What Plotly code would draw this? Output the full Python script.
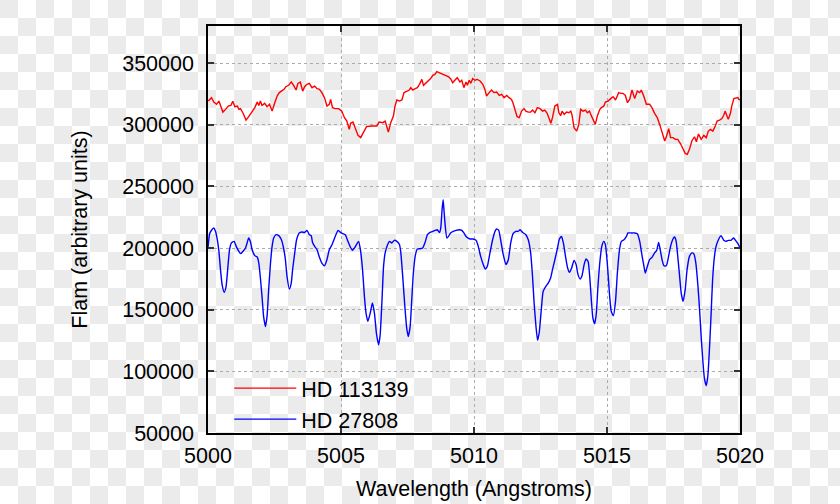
import plotly.graph_objects as go

# ---- data ----
red_wl = [5000.01, 5000.13, 5000.22, 5000.32, 5000.41, 5000.47, 5000.56, 5000.66, 5000.76, 5000.86,
          5000.93, 5001.01, 5001.10, 5001.16, 5001.22, 5001.31, 5001.43, 5001.53, 5001.66, 5001.76,
          5001.85, 5001.91, 5001.97, 5002.03, 5002.13, 5002.22, 5002.31, 5002.41, 5002.51, 5002.60,
          5002.68, 5002.78, 5002.87, 5002.93, 5003.03, 5003.13, 5003.22, 5003.31, 5003.38, 5003.47,
          5003.56, 5003.63, 5003.72, 5003.81, 5003.91, 5004.01, 5004.10, 5004.19, 5004.28, 5004.38,
          5004.47, 5004.56, 5004.61, 5004.68, 5004.78, 5004.91, 5005.03, 5005.13, 5005.22, 5005.31,
          5005.36, 5005.45, 5005.54, 5005.64, 5005.74, 5005.83, 5005.96, 5006.16, 5006.35, 5006.43,
          5006.57, 5006.66, 5006.72, 5006.78, 5006.87, 5006.97, 5007.03, 5007.10, 5007.20, 5007.29,
          5007.37, 5007.47, 5007.57, 5007.62, 5007.70, 5007.79, 5007.87, 5007.95, 5008.00, 5008.04,
          5008.10, 5008.20, 5008.28, 5008.37, 5008.45, 5008.54, 5008.60, 5008.70, 5008.82, 5008.95,
          5009.03, 5009.12, 5009.20, 5009.28, 5009.37, 5009.47, 5009.54, 5009.62, 5009.70, 5009.75,
          5009.82, 5009.88, 5009.95, 5010.04, 5010.12, 5010.23, 5010.33, 5010.41, 5010.47, 5010.57,
          5010.66, 5010.75, 5010.85, 5010.95, 5011.04, 5011.13, 5011.23, 5011.32, 5011.41, 5011.47,
          5011.54, 5011.62, 5011.70, 5011.79, 5011.88, 5011.95, 5012.04, 5012.13, 5012.20, 5012.29,
          5012.38, 5012.48, 5012.58, 5012.66, 5012.75, 5012.82, 5012.89, 5012.95, 5013.04, 5013.14,
          5013.19, 5013.26, 5013.31, 5013.39, 5013.48, 5013.56, 5013.64, 5013.69, 5013.76, 5013.81,
          5013.86, 5013.94, 5014.01, 5014.10, 5014.19, 5014.26, 5014.34, 5014.41, 5014.51, 5014.56,
          5014.64, 5014.73, 5014.79, 5014.88, 5014.94, 5015.04, 5015.14, 5015.23, 5015.32, 5015.39,
          5015.44, 5015.52, 5015.60, 5015.69, 5015.77, 5015.85, 5015.94, 5016.04, 5016.14, 5016.23,
          5016.29, 5016.39, 5016.48, 5016.60, 5016.69, 5016.79, 5016.89, 5016.98, 5017.07, 5017.17,
          5017.24, 5017.32, 5017.39, 5017.48, 5017.57, 5017.66, 5017.77, 5017.85, 5017.94, 5018.02,
          5018.10, 5018.19, 5018.29, 5018.36, 5018.44, 5018.54, 5018.64, 5018.73, 5018.81, 5018.89,
          5018.98, 5019.07, 5019.14, 5019.23, 5019.32, 5019.39, 5019.44, 5019.52, 5019.56, 5019.64,
          5019.69, 5019.77, 5019.86, 5019.92, 5019.96, 5020.00]
red_flux = [319100, 321900, 318300, 316500, 319100, 315100, 310200, 312400, 315100, 315600,
            318900, 314600, 315100, 312400, 313000, 309700, 303700, 306500, 311000, 313800,
            318300, 315600, 319100, 315600, 317300, 314600, 316500, 311000, 317800, 323200,
            326000, 327500, 328900, 330800, 331900, 334600, 331900, 328100, 333500, 334600,
            327200, 330800, 332700, 333500, 330000, 331300, 329200, 328600, 326000, 321900,
            315100, 316500, 320500, 313800, 313000, 313000, 311000, 305700, 302900, 296200,
            301100, 302100, 296200, 291300, 289500, 293500, 298400, 298900, 298900, 302100,
            301600, 302900, 298900, 294000, 301600, 307000, 315100, 320000, 319100, 320000,
            326000, 327200, 328100, 330000, 328100, 329200, 330000, 332700, 334600, 336700,
            331900, 334000, 335500, 337400, 340000, 341000, 343000, 342000, 341000, 340000,
            339000, 337300, 334000, 336000, 338100, 334600, 336000, 330000, 334600, 331900,
            336000, 333500, 337300, 336000, 336700, 335400, 332700, 328600, 323200, 326000,
            328100, 326000, 326500, 323700, 324600, 321900, 323700, 321900, 320500, 317300,
            312400, 306500, 305700, 311000, 313000, 311000, 310200, 310200, 311800, 309700,
            313800, 313000, 311000, 311800, 309200, 304900, 301100, 305700, 315100, 316500,
            309700, 307300, 311000, 308400, 310200, 309700, 311000, 307300, 297600, 296200,
            294800, 300200, 312400, 311000, 311800, 309700, 311000, 307300, 301600, 300200,
            307300, 312400, 313800, 315100, 318300, 319100, 321100, 322700, 320000, 323200,
            326000, 325400, 325400, 323700, 317800, 320500, 328100, 321100, 327200, 326000,
            328100, 322700, 316500, 316500, 313800, 309200, 305700, 300200, 293800, 286800,
            290800, 296800, 289500, 289500, 288100, 288100, 284300, 280500, 276700, 275900,
            280000, 286800, 290200, 286200, 292400, 288100, 291300, 289500, 294800, 296200,
            294800, 298900, 302900, 303700, 304900, 307600, 311000, 306500, 304300, 309200,
            315100, 321100, 321900, 321900, 320500, 320000]

blue_wl = [5000.00, 5000.06, 5000.12, 5000.22, 5000.28, 5000.35, 5000.41, 5000.47, 5000.53, 5000.61,
           5000.68, 5000.76, 5000.81, 5000.88, 5000.98, 5001.06, 5001.16, 5001.23, 5001.31, 5001.41,
           5001.47, 5001.53, 5001.59, 5001.66, 5001.76, 5001.85, 5001.91, 5001.97, 5002.03, 5002.09,
           5002.16, 5002.22, 5002.28, 5002.35, 5002.41, 5002.47, 5002.56, 5002.66, 5002.76, 5002.84,
           5002.91, 5002.97, 5003.06, 5003.13, 5003.18, 5003.26, 5003.33, 5003.43, 5003.53, 5003.63,
           5003.72, 5003.81, 5003.88, 5003.93, 5004.01, 5004.10, 5004.18, 5004.28, 5004.38, 5004.47,
           5004.56, 5004.66, 5004.76, 5004.89, 5005.01, 5005.16, 5005.26, 5005.35, 5005.43, 5005.53,
           5005.66, 5005.73, 5005.81, 5005.88, 5005.94, 5006.01, 5006.10, 5006.18, 5006.26, 5006.33,
           5006.41, 5006.47, 5006.54, 5006.60, 5006.66, 5006.75, 5006.82, 5006.91, 5007.00, 5007.10,
           5007.20, 5007.25, 5007.32, 5007.40, 5007.47, 5007.53, 5007.60, 5007.66, 5007.72, 5007.80,
           5007.87, 5007.97, 5008.07, 5008.16, 5008.25, 5008.35, 5008.45, 5008.54, 5008.62, 5008.70,
           5008.75, 5008.80, 5008.84, 5008.87, 5008.92, 5008.98, 5009.04, 5009.12, 5009.22, 5009.32,
           5009.45, 5009.54, 5009.62, 5009.72, 5009.85, 5009.97, 5010.08, 5010.16, 5010.25, 5010.35,
           5010.42, 5010.50, 5010.60, 5010.70, 5010.79, 5010.85, 5010.93, 5011.00, 5011.10, 5011.20,
           5011.29, 5011.38, 5011.47, 5011.58, 5011.66, 5011.73, 5011.83, 5011.95, 5012.04, 5012.13,
           5012.20, 5012.26, 5012.33, 5012.39, 5012.45, 5012.53, 5012.60, 5012.70, 5012.79, 5012.88,
           5012.95, 5013.04, 5013.14, 5013.21, 5013.29, 5013.36, 5013.44, 5013.52, 5013.59, 5013.67,
           5013.76, 5013.84, 5013.91, 5013.99, 5014.06, 5014.14, 5014.21, 5014.29, 5014.35, 5014.41,
           5014.47, 5014.54, 5014.60, 5014.66, 5014.74, 5014.81, 5014.88, 5014.94, 5015.01, 5015.10,
           5015.16, 5015.24, 5015.32, 5015.39, 5015.47, 5015.54, 5015.64, 5015.73, 5015.79, 5015.92,
           5016.04, 5016.14, 5016.23, 5016.31, 5016.39, 5016.44, 5016.51, 5016.60, 5016.69, 5016.79,
           5016.87, 5016.94, 5016.99, 5017.07, 5017.14, 5017.23, 5017.29, 5017.39, 5017.48, 5017.54,
           5017.60, 5017.66, 5017.73, 5017.79, 5017.86, 5017.94, 5018.01, 5018.10, 5018.19, 5018.26,
           5018.34, 5018.42, 5018.48, 5018.54, 5018.60, 5018.66, 5018.73, 5018.79, 5018.85, 5018.91,
           5018.97, 5019.04, 5019.10, 5019.19, 5019.29, 5019.39, 5019.47, 5019.56, 5019.66, 5019.76,
           5019.86, 5019.92, 5020.00]
blue_flux = [200000, 211500, 214000, 216200, 213500, 206700, 197200, 182400, 170300, 164000,
             168900, 187800, 198600, 204100, 205400, 201300, 197200, 195400, 197200, 200000,
             204100, 208100, 205400, 198600, 193800, 192700, 187800, 175700, 160800, 144600,
             136400, 144600, 166200, 187800, 201300, 208100, 210800, 210000, 206700, 200000,
             190500, 177000, 166800, 171600, 182400, 196000, 206700, 212200, 213000, 212600,
             214300, 210800, 210000, 204500, 201300, 198600, 193200, 187800, 185600, 190500,
             198600, 202700, 208100, 214300, 212200, 210800, 205400, 200800, 198100, 200800,
             205400, 198600, 182400, 160800, 147300, 140500, 147300, 155400, 146700, 131100,
             121600, 129000, 157000, 185100, 196000, 202700, 205400, 204100, 206200, 205400,
             202700, 196000, 177000, 152700, 135100, 128300, 136400, 158100, 179700, 194600,
             199200, 199400, 200000, 204500, 210800, 212600, 213500, 214300, 214800, 212600,
             216200, 231100, 239200, 231100, 217500, 208100, 209400, 212200, 213500, 214300,
             214800, 214300, 212200, 208900, 207300, 207300, 206200, 201300, 193200, 186500,
             183000, 185100, 196000, 206700, 213500, 215400, 214300, 206700, 194600, 186500,
             190500, 204100, 211600, 213500, 213500, 214800, 212600, 210800, 206700, 196000,
             177000, 155400, 136400, 125100, 131100, 150000, 164800, 168900, 171600, 175700,
             182400, 190500, 200000, 207300, 209400, 204100, 193200, 183800, 180200, 183800,
             190000, 186500, 178400, 174900, 177500, 186500, 191100, 189100, 177000, 158100,
             143200, 138600, 147300, 168900, 190500, 201900, 205400, 202700, 187800, 160800,
             148600, 145100, 156700, 179700, 198600, 205400, 206700, 209400, 212200, 212200,
             212200, 211600, 205400, 194600, 185100, 179700, 184600, 190500, 192400, 196000,
             198100, 204500, 200000, 190500, 185600, 185600, 190500, 201300, 207300, 208900,
             205400, 193200, 177000, 163500, 156700, 166200, 182400, 193200, 196000, 195400,
             187800, 168900, 150000, 128300, 109400, 94600, 88300, 96000, 117500, 144600,
             174300, 193200, 201300, 206700, 210000, 206200, 205400, 206200, 206200, 208100,
             205400, 203500, 200500]

series_names = ["HD 113139", "HD 27808"]
x_ticks = [5000, 5005, 5010, 5015, 5020]
y_ticks = [50000, 100000, 150000, 200000, 250000, 300000, 350000]

# ---- layout constants ----
W, H = 840, 504
ML, MR, MT, MB = 208, 100, 26, 71
PW, PH = W - ML - MR, H - MT - MB
FONT = "Liberation Sans, Arial, Helvetica, sans-serif"
FS = 21.5

fig = go.Figure()
fig.add_trace(go.Scatter(x=red_wl, y=red_flux, mode="lines", name=series_names[0],
                         line=dict(color="#ff0000", width=1.4)))
fig.add_trace(go.Scatter(x=blue_wl, y=blue_flux, mode="lines", name=series_names[1],
                         line=dict(color="#0000ff", width=1.4, shape="spline", smoothing=0.5)))

# checkerboard "transparency" backdrop, as a single path in paper coordinates
cell = 18
parts = []
def px(x):
    return (x - ML) / PW
def py(y):
    return (MT + PH - y) / PH
for r in range((H + cell - 1) // cell):
    for c in range((W + cell - 1) // cell):
        if (r + c) % 2 == 0:
            x0, x1 = c * cell, min((c + 1) * cell, W)
            y0, y1 = r * cell, min((r + 1) * cell, H)
            parts.append("M%.5f,%.5f L%.5f,%.5f L%.5f,%.5f L%.5f,%.5f Z" % (
                px(x0), py(y0), px(x1), py(y0), px(x1), py(y1), px(x0), py(y1)))
fig.add_shape(type="path", xref="paper", yref="paper", path=" ".join(parts),
              fillcolor="#ebebeb", line=dict(width=0), layer="below")

axis_common = dict(
    showline=True, linecolor="black", linewidth=1.5, mirror="all",
    ticks="inside", ticklen=6, tickwidth=1.5, tickcolor="#333333",
    showgrid=True, gridcolor="#ababab", gridwidth=1, griddash="dot",
    zeroline=False, tickfont=dict(family=FONT, size=FS, color="black"),
)
fig.update_xaxes(range=[5000, 5020], tickvals=x_ticks, ticktext=[str(v) for v in x_ticks],
                 title=dict(text="Wavelength (Angstroms)", font=dict(family=FONT, size=FS, color="black"),
                            standoff=14),
                 ticklabelstandoff=2, **axis_common)
fig.update_yaxes(range=[50000, 380000], tickvals=y_ticks, ticktext=[str(v) for v in y_ticks],
                 title=dict(text="Flam (arbitrary units)", font=dict(family=FONT, size=FS, color="black"),
                            standoff=29),
                 ticklabelstandoff=8, **axis_common)

fig.update_layout(
    width=W, height=H, margin=dict(l=ML, r=MR, t=MT, b=MB, autoexpand=False),
    paper_bgcolor="white", plot_bgcolor="rgba(0,0,0,0)",
    font=dict(family=FONT, size=FS, color="black"),
    showlegend=True,
    legend=dict(x=0.04, y=0.072, xanchor="left", yanchor="middle",
                bgcolor="rgba(0,0,0,0)", borderwidth=0, itemwidth=62,
                font=dict(family=FONT, size=FS, color="black"),
                tracegroupgap=0),
)

fig.write_html("out.html")
